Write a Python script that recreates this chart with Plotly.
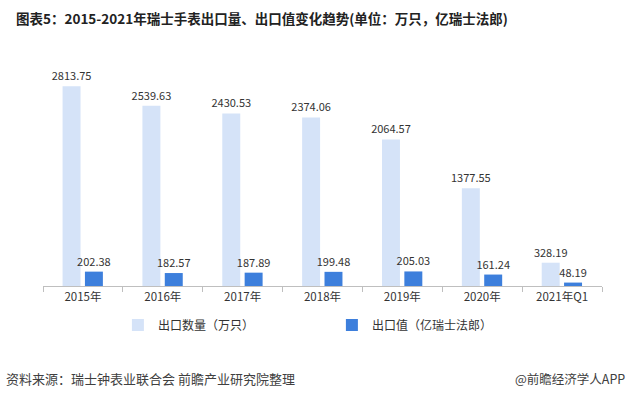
import plotly.graph_objects as go

categories = ["2015年", "2016年", "2017年", "2018年", "2019年", "2020年", "2021年Q1"]
export_volume = [2813.75, 2539.63, 2430.53, 2374.06, 2064.57, 1377.55, 328.19]
export_value = [202.38, 182.57, 187.89, 199.48, 205.03, 161.24, 48.19]
series_names = ["出口数量（万只）", "出口值（亿瑞士法郎）"]
title_text = "图表5：2015-2021年瑞士手表出口量、出口值变化趋势(单位：万只，亿瑞士法郎)"
source_text = "资料来源：瑞士钟表业联合会 前瞻产业研究院整理"
brand_text = "@前瞻经济学人APP"

FONT = "Noto Sans CJK SC, Microsoft YaHei, sans-serif"
LIGHT = "#D5E3F8"
DARK = "#3D7FDC"

fig = go.Figure()
fig.add_trace(go.Bar(
    x=categories, y=export_volume, name=series_names[0],
    marker=dict(color=LIGHT, line=dict(width=0)),
    width=0.225, offset=-0.255,
    text=[f"{v:.2f}" for v in export_volume], textposition="outside",
    constraintext="none",
    textfont=dict(size=11, color="#333333", family=FONT),
    cliponaxis=False,
))
fig.add_trace(go.Bar(
    x=categories, y=export_value, name=series_names[1],
    marker=dict(color=DARK, line=dict(width=0)),
    width=0.225, offset=0.025,
    text=[f"{v:.2f}" for v in export_value], textposition="outside",
    constraintext="none",
    textfont=dict(size=11, color="#333333", family=FONT),
    cliponaxis=False,
))

fig.update_layout(
    width=631, height=398,
    margin=dict(l=43, r=29, t=73, b=112),
    paper_bgcolor="white", plot_bgcolor="white",
    font=dict(family=FONT, color="#333333"),
    barmode="overlay",
    showlegend=True,
    legend=dict(
        orientation="h", x=0.134, xanchor="left", y=-0.183, yanchor="middle",
        entrywidth=169, entrywidthmode="pixels",
        font=dict(size=12, color="#333333", family=FONT),
        bgcolor="rgba(0,0,0,0)", itemclick=False,
    ),
    xaxis=dict(
        showline=True, linecolor="#BFBFBF", linewidth=1,
        ticks="outside", tickson="boundaries", ticklen=5, tickcolor="#BFBFBF",
        tickfont=dict(size=11.5, color="#333333", family=FONT),
        showgrid=False, fixedrange=True,
    ),
    yaxis=dict(
        range=[0, 3000], visible=False, showgrid=False, zeroline=False, fixedrange=True,
    ),
    annotations=[
        dict(text="<b>" + title_text + "</b>", xref="paper", yref="paper",
             x=-0.052, y=(286 - 18) / 213,
             xanchor="left", yanchor="middle", showarrow=False,
             font=dict(size=13.5, color="#222222", family=FONT)),
        dict(text=source_text, xref="paper", yref="paper", x=-0.0698, y=-(378 - 286) / 213,
             xanchor="left", yanchor="middle", showarrow=False,
             font=dict(size=13, color="#404040", family=FONT)),
        dict(text=brand_text, xref="paper", yref="paper", x=(627 - 43) / 559, y=-(378 - 286) / 213,
             xanchor="right", yanchor="middle", showarrow=False,
             font=dict(size=12.5, color="#404040", family=FONT)),
    ],
)

fig.write_html("out.html", config={"displayModeBar": False},
               post_script="document.body.style.margin='0';")
